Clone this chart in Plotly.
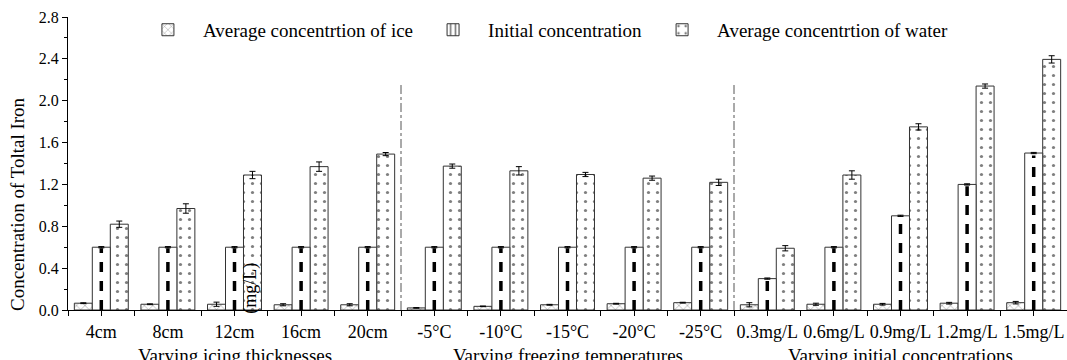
import plotly.graph_objects as go

categories = ["4cm", "8cm", "12cm", "16cm", "20cm",
              "-5°C", "-10°C", "-15°C", "-20°C", "-25°C",
              "0.3mg/L", "0.6mg/L", "0.9mg/L", "1.2mg/L", "1.5mg/L"]
group_titles = ["Varying icing thicknesses", "Varying freezing temperatures",
                "Varying initial concentrations"]
group_sizes = [5, 5, 5]

ice = [0.065, 0.055, 0.055, 0.05, 0.05, 0.02, 0.035, 0.05, 0.06, 0.07,
       0.05, 0.055, 0.055, 0.065, 0.07]
ice_err = [0.004, 0.004, 0.02, 0.01, 0.01, 0.003, 0.003, 0.004, 0.004, 0.004,
           0.02, 0.01, 0.008, 0.008, 0.012]
initial = [0.6, 0.6, 0.6, 0.6, 0.6, 0.6, 0.6, 0.6, 0.6, 0.6,
           0.3, 0.6, 0.9, 1.2, 1.5]
initial_err = [0.006] * 15
water = [0.82, 0.97, 1.29, 1.37, 1.49, 1.375, 1.33, 1.295, 1.26, 1.22,
         0.59, 1.29, 1.75, 2.14, 2.395]
water_err = [0.03, 0.045, 0.035, 0.045, 0.015, 0.02, 0.04, 0.02, 0.02, 0.03,
             0.025, 0.04, 0.03, 0.02, 0.035]
divider_top = 2.15

FONT = "Liberation Serif"
x = list(range(len(categories)))
bw = 0.27
edge = dict(color="#333333", width=1)
err = lambda v: dict(type="data", array=v, color="black", thickness=1, width=3)

fig = go.Figure()
fig.add_trace(go.Bar(x=x, y=ice, width=bw, offset=-1.5 * bw, name="Average concentrtion of ice",
                     marker=dict(color="white", line=edge,
                                 pattern=dict(shape="x", fgcolor="black", size=6, solidity=0.15)),
                     error_y=err(ice_err)))
# legend-only entry for initial concentration
fig.add_trace(go.Bar(x=[None], y=[None], name="Initial concentration",
                     marker=dict(color="white", line=edge,
                                 pattern=dict(shape="|", fgcolor="black", size=6, solidity=0.35))))
fig.add_trace(go.Bar(x=x, y=water, width=bw, offset=0.5 * bw, name="Average concentrtion of water",
                     marker=dict(color="white", line=edge,
                                 pattern=dict(shape=".", fgcolor="black", size=9, solidity=0.1)),
                     error_y=err(water_err)))
fig.add_trace(go.Bar(x=x, y=initial, width=bw, offset=-0.5 * bw, showlegend=False,
                     marker=dict(color="white", line=edge),
                     error_y=err(initial_err)))
for xi, yi in zip(x, initial):
    fig.add_trace(go.Scatter(x=[xi, xi], y=[0, yi * 0.985], mode="lines", showlegend=False,
                             hoverinfo="skip",
                             line=dict(color="black", width=3.5, dash="10px,9px")))

# group dividers and group titles
start = 0
bounds = []
for g, n in zip(group_titles, group_sizes):
    fig.add_annotation(x=start + (n - 1) / 2, y=-0.112, xref="x", yref="paper",
                       text=g, showarrow=False, xanchor="center", yanchor="top",
                       font=dict(family=FONT, size=19, color="black"))
    start += n
    bounds.append(start - 0.5)
for b in bounds[:-1]:
    fig.add_trace(go.Scatter(x=[b, b], y=[0, divider_top], mode="lines", showlegend=False,
                             hoverinfo="skip",
                             line=dict(color="#555555", width=1, dash="dashdot")))

fig.add_annotation(x=-0.05, y=0.362, xref="paper", yref="paper",
                   text="Concentration of Toltal Iron", textangle=-90, showarrow=False,
                   xanchor="center", yanchor="middle",
                   font=dict(family=FONT, size=19, color="black"))
fig.add_annotation(x=2.23, y=0.21, xref="x", yref="y",
                   text="(mg/L)", textangle=-90, showarrow=False,
                   xanchor="center", yanchor="middle",
                   font=dict(family=FONT, size=18, color="black"))

fig.update_layout(
    width=1067, height=360,
    margin=dict(l=68, r=0, t=17, b=50),
    barmode="overlay",
    plot_bgcolor="white", paper_bgcolor="white",
    font=dict(family=FONT, size=18, color="black"),
    legend=dict(orientation="h", x=0.065, y=0.956, xanchor="left", yanchor="middle",
                font=dict(family=FONT, size=19), itemwidth=60,
                bgcolor="rgba(0,0,0,0)", traceorder="normal"),
    xaxis=dict(range=[-0.5, 14.5], tickmode="array", tickvals=x, ticktext=categories,
               showline=True, linecolor="black", linewidth=1, ticks="outside",
               ticklen=5, tickcolor="black", showgrid=False, zeroline=False,
               minor=dict(tickvals=[i + 0.5 for i in range(-1, 15)], ticks="outside",
                          ticklen=5, tickcolor="black"),
               tickfont=dict(family=FONT, size=18)),
    yaxis=dict(range=[0, 2.8], dtick=0.4, tickformat=".1f", showline=True,
               linecolor="black", linewidth=1, ticks="outside", ticklen=5,
               tickcolor="black", showgrid=False, zeroline=False,
               minor=dict(dtick=0.2, ticks="outside", ticklen=3, tickcolor="black"),
               tickfont=dict(family=FONT, size=16)),
)

fig.write_html("out.html")
